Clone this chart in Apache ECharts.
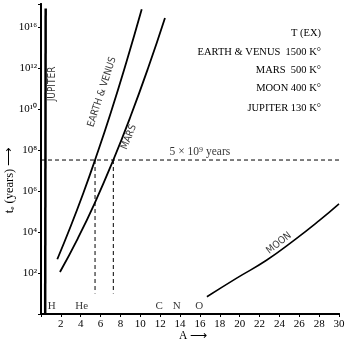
<!DOCTYPE html>
<html><head><meta charset="utf-8">
<script src="https://cdn.jsdelivr.net/npm/echarts@6/dist/echarts.min.js"></script>
<style>html,body{margin:0;padding:0;background:#fff}#c{width:350px;height:344px}</style>
</head><body><div id="c"></div>
<script>
// exponents: log10(t_e in years)
const jupiterA = [0.42, 0.47];
const jupiterExp = [0.0, 14.9];
const earthA = [1.64, 3.0, 4.3, 5.44, 7.0, 8.6, 10.14];
const earthExp = [2.67, 4.29, 5.95, 7.51, 9.78, 12.29, 14.86];
const marsA = [1.91, 3.7, 5.4, 7.28, 9.0, 10.8, 12.48];
const marsExp = [2.05, 3.68, 5.40, 7.51, 9.62, 12.02, 14.44];
const moonA = [16.7, 19.7, 22.7, 25.5, 28.0, 30.0];
const moonExp = [0.84, 1.75, 2.62, 3.60, 4.55, 5.37];
const ageExp = 7.51;           // "5 x 10^9 years" level
const crossA = [5.44, 7.28];   // dashed drops (Earth & Venus, Mars)
const dropBottomExp = 1.0;
const elements = ['H', 'He', 'C', 'N', 'O'];
const elementA = [1.08, 4.1, 11.9, 13.66, 15.94];
const xTicks = [2,4,6,8,10,12,14,16,18,20,22,24,26,28,30];
const yTickExp = [2,4,6,8,10,12,14];
const yTickLabels = ['10²','10⁴','10⁶','10⁸','10¹⁰','10¹²','10¹⁶'];
const legendLines = ['T (EX)', 'EARTH & VENUS  1500 K°', 'MARS  500 K°', 'MOON 400 K°', 'JUPITER 130 K°'];

const zip = (a, b) => a.map((v, i) => [v, b[i]]);
const serif = 'Liberation Serif';
const narrow = "'Liberation Sans Narrow', 'DejaVu Sans Condensed', sans-serif";

const chart = echarts.init(document.getElementById('c'));
const curve = (data, w) => ({ type: 'line', data, symbol: 'none', smooth: 0.5,
  lineStyle: { color: '#000', width: w }, silent: true, z: 3 });
const dash = (data) => ({ type: 'line', data, symbol: 'none',
  lineStyle: { color: '#000', width: 1, type: [4, 3] }, silent: true });
const textPt = (x, y, text, rot, font, size, extra) => ({ type: 'scatter', symbolSize: 0,
  data: [[x, y]], silent: true, z: 5,
  label: Object.assign({ show: true, position: 'inside', formatter: text, rotate: rot,
    fontFamily: font, fontSize: size, color: '#000' }, extra || {}) });

const series = [
  curve(zip(jupiterA, jupiterExp), 2.5),
  curve(zip(earthA, earthExp), 1.8),
  curve(zip(marsA, marsExp), 1.8),
  curve(zip(moonA, moonExp), 1.6),
  dash([[0, ageExp], [30, ageExp]]),
  dash([[crossA[0], ageExp], [crossA[0], dropBottomExp]]),
  dash([[crossA[1], ageExp], [crossA[1], dropBottomExp]]),
  textPt(1.16, 11.22, 'JUPITER', 90, narrow, 10),
  textPt(6.14, 10.83, 'EARTH & VENUS', 72, narrow, 10),
  textPt(8.86, 8.63, 'MARS', 68, narrow, 10),
  textPt(23.96, 3.46, 'MOON', 38, narrow, 10),
  textPt(16.0, 7.9, '5 × 10⁹ years', 0, serif, 11.5),
  { type: 'scatter', symbolSize: 0, silent: true, z: 5,
    data: elements.map((e, i) => ({ value: [elementA[i], 0.39], name: e })),
    label: { show: true, position: 'inside', formatter: p => p.name,
      fontFamily: serif, fontSize: 11, color: '#000' } }
];

const axisLine = { show: true, lineStyle: { color: '#000', width: 2 } };
chart.setOption({
  animation: false,
  grid: { left: 41, right: 11, top: 4, bottom: 30 },
  xAxis: [
    { type: 'value', min: 0, max: 30, interval: 2, axisLine,
      axisTick: { show: true, length: 3, lineStyle: { color: '#000' } },
      splitLine: { show: false },
      axisLabel: { margin: 5, fontFamily: serif, fontSize: 11, color: '#000',
        formatter: v => xTicks.indexOf(v) >= 0 ? String(v) : '' } },
    { type: 'value', position: 'top', min: 0, max: 30, interval: 2, axisLine,
      axisTick: { show: true, inside: true, length: 3, lineStyle: { color: '#000' } },
      splitLine: { show: false }, axisLabel: { show: false } }
  ],
  yAxis: [
    { type: 'value', min: 0, max: 15.12, interval: 2, axisLine,
      axisTick: { show: true, length: 3, lineStyle: { color: '#000' } },
      splitLine: { show: false },
      axisLabel: { margin: 4, fontFamily: serif, fontSize: 11, color: '#000', showMaxLabel: false,
        formatter: v => { const i = yTickExp.indexOf(v); return i >= 0 ? yTickLabels[i] : ''; } } },
    { type: 'value', position: 'right', min: 0, max: 15.12, interval: 2, axisLine,
      axisTick: { show: true, inside: true, length: 3, lineStyle: { color: '#000' } },
      splitLine: { show: false }, axisLabel: { show: false } }
  ],
  graphic: [
    { type: 'text', x: 10, y: 180, rotation: Math.PI / 2,
      style: { text: 'tₑ (years) ⟶', font: '12.5px ' + serif, fill: '#000',
        align: 'center', verticalAlign: 'middle' } },
    { type: 'text', x: 193, y: 336,
      style: { text: 'A ⟶', font: '11.5px ' + serif, fill: '#000',
        align: 'center', verticalAlign: 'middle' } }
  ].concat(legendLines.map((t, i) => ({
    type: 'text', x: 321, y: [33, 52, 70, 88, 108][i],
    style: { text: t, font: '10.5px ' + serif, fill: '#000', align: 'right', verticalAlign: 'middle' } }))),
  series
});
</script></body></html>
